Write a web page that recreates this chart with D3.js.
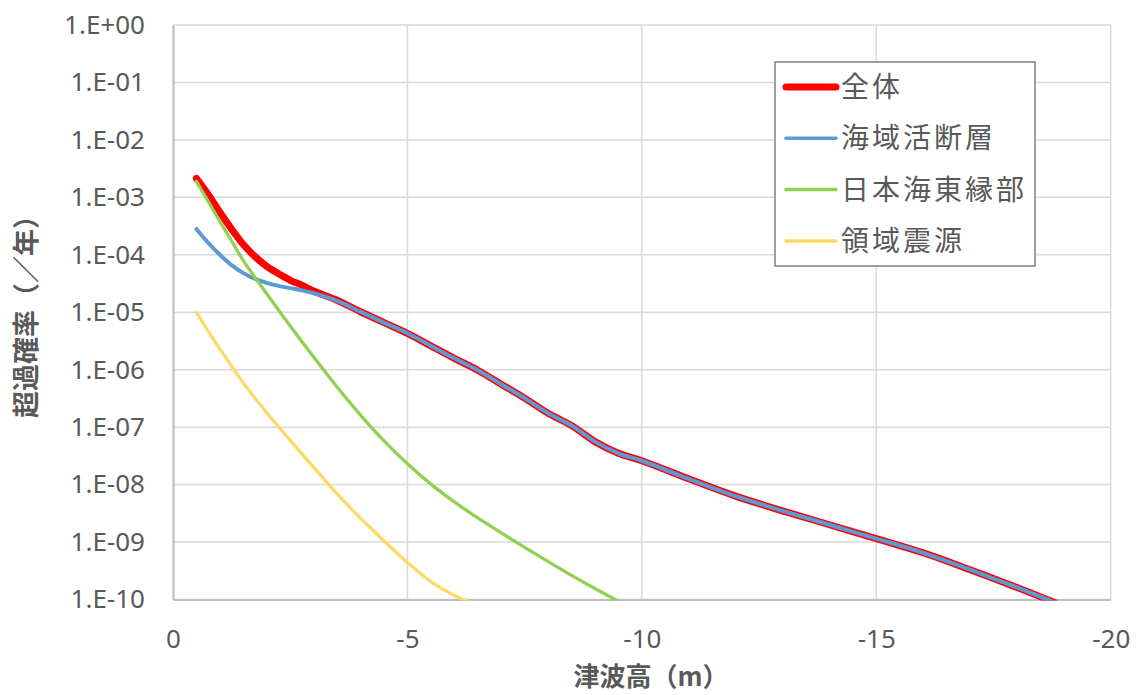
<!DOCTYPE html>
<html><head><meta charset="utf-8">
<script src="https://cdn.jsdelivr.net/npm/d3@7"></script>
<style>
html,body{margin:0;padding:0;background:#fff;}
text{font-family:"Noto Sans","Noto Sans CJK JP",sans-serif;}
</style></head>
<body><svg id="c" width="1140" height="695"></svg>
<script>
// tsunami height (m, plotted as negative values) and exceedance probability (/yr)
const xTotal = [-0.5,-0.75,-1,-1.25,-1.5,-1.75,-2,-2.25,-2.5,-2.75,-3,-3.5,-4,-4.5,-5,-5.5,-6,-6.5,-7,-7.5,-8,-8.5,-9,-9.5,-10,-11,-12,-13,-14,-15,-16,-17,-18,-18.8];
const yTotal = [2.14e-3,1.12e-3,5.5e-4,2.8e-4,1.51e-4,9.3e-5,6.3e-5,4.7e-5,3.6e-5,2.95e-5,2.34e-5,1.62e-5,1.02e-5,6.6e-6,4.3e-6,2.6e-6,1.58e-6,9.8e-7,5.6e-7,3.2e-7,1.74e-7,1.07e-7,5.6e-8,3.5e-8,2.6e-8,1.26e-8,6.3e-9,3.5e-9,2.0e-9,1.15e-9,6.5e-10,3.3e-10,1.62e-10,8.9e-11];
const xFault = [-0.5,-0.75,-1,-1.25,-1.5,-1.75,-2,-2.25,-2.5,-2.75,-3,-3.5,-4,-4.5,-5,-5.5,-6,-6.5,-7,-7.5,-8,-8.5,-9,-9.5,-10,-11,-12,-13,-14,-15,-16,-17,-18,-18.8];
const yFault = [2.82e-4,1.62e-4,1.0e-4,6.6e-5,4.8e-5,3.8e-5,3.24e-5,2.88e-5,2.63e-5,2.4e-5,2.14e-5,1.58e-5,1.02e-5,6.6e-6,4.3e-6,2.6e-6,1.58e-6,9.8e-7,5.6e-7,3.2e-7,1.74e-7,1.07e-7,5.6e-8,3.5e-8,2.6e-8,1.26e-8,6.3e-9,3.5e-9,2.0e-9,1.15e-9,6.5e-10,3.3e-10,1.62e-10,8.9e-11];
const xJapanSea = [-0.5,-0.75,-1,-1.25,-1.5,-2,-2.5,-3,-3.5,-4,-4.5,-5,-5.5,-6,-6.5,-7,-7.5,-8,-8.5,-9,-9.5];
const yJapanSea = [1.9e-3,8.5e-4,3.8e-4,1.74e-4,7.9e-5,2.1e-5,5.75e-6,1.66e-6,5.0e-7,1.62e-7,5.75e-8,2.3e-8,1.02e-8,5.0e-9,2.63e-9,1.45e-9,8.1e-10,4.6e-10,2.63e-10,1.55e-10,9.3e-11];
const xRegional = [-0.5,-0.75,-1,-1.5,-2,-2.5,-3,-3.5,-4,-4.5,-5,-5.5,-6,-6.35];
const yRegional = [1.0e-5,4.7e-6,2.3e-6,5.9e-7,1.78e-7,5.9e-8,2.0e-8,6.9e-9,2.6e-9,1.05e-9,4.4e-10,2.04e-10,1.17e-10,8.9e-11];

const seriesNames = ["全体","海域活断層","日本海東縁部","領域震源"];
const seriesColors = ["#FF0000","#5B9BD5","#92D050","#FFD966"];
const xTicks = [0,-5,-10,-15,-20];
const yTicks = [1,1e-1,1e-2,1e-3,1e-4,1e-5,1e-6,1e-7,1e-8,1e-9,1e-10];
const yTickLabels = ["1.E+00","1.E-01","1.E-02","1.E-03","1.E-04","1.E-05","1.E-06","1.E-07","1.E-08","1.E-09","1.E-10"];

const svg = d3.select("#c");
const L = 173, R = 1110.7, T = 25, B = 599.5;
const x = d3.scaleLinear().domain([0,-20]).range([L,R]);
const y = d3.scaleLog().domain([1e-10,1]).range([B,T]);

// gridlines
svg.append("g").selectAll("line").data(yTicks).join("line")
  .attr("x1",L).attr("x2",R).attr("y1",d=>y(d)).attr("y2",d=>y(d))
  .attr("stroke","#d9d9d9").attr("stroke-width",1.5);
svg.append("g").selectAll("line").data(xTicks.slice(1)).join("line")
  .attr("x1",d=>x(d)).attr("x2",d=>x(d)).attr("y1",T).attr("y2",B)
  .attr("stroke","#d9d9d9").attr("stroke-width",1.5);

// axes
const yAxis = d3.axisLeft(y).tickValues(yTicks).tickFormat((d,i)=>yTickLabels[i]).tickSize(0).tickPadding(28);
const gy = svg.append("g").attr("transform",`translate(${L},0)`).call(yAxis);
gy.select(".domain").attr("stroke","#bfbfbf").attr("stroke-width",2.2);
gy.selectAll("text").attr("font-size",26).attr("fill","#595959");
const xAxis = d3.axisBottom(x).tickValues(xTicks).tickFormat(d=>d3.format("d")(d).replace("−","-")).tickSize(0).tickPadding(30);
const gx = svg.append("g").attr("transform",`translate(0,${B})`).call(xAxis);
gx.select(".domain").attr("stroke","#bfbfbf").attr("stroke-width",2.2);
gx.selectAll("text").attr("font-size",26).attr("fill","#595959");

// clip
svg.append("clipPath").attr("id","clip").append("rect").attr("x",L).attr("y",T-10).attr("width",R-L+10).attr("height",B-T+11);

const line = d3.line().x(d=>x(d[0])).y(d=>y(d[1])).curve(d3.curveCatmullRom.alpha(0.5));
const data = [
  d3.zip(xTotal,yTotal), d3.zip(xFault,yFault), d3.zip(xJapanSea,yJapanSea), d3.zip(xRegional,yRegional)
];
const widths = [7,4,3.3,3.3];
const gl = svg.append("g").attr("clip-path","url(#clip)");
data.forEach((d,i)=>{
  gl.append("path").datum(d).attr("d",line).attr("fill","none")
    .attr("stroke",seriesColors[i]).attr("stroke-width",widths[i])
    .attr("stroke-linecap","round").attr("stroke-linejoin","round");
});

// axis titles
svg.append("text").attr("x",651).attr("y",686).attr("text-anchor","middle")
  .attr("font-size",26).attr("font-weight","bold").attr("fill","#595959")
  .style("font-family",'"Noto Sans CJK JP",sans-serif').text("津波高（m）");
svg.append("text").attr("transform","translate(36,310) rotate(-90)").attr("text-anchor","middle")
  .attr("font-size",27).attr("font-weight","bold").attr("fill","#595959")
  .style("font-family",'"Noto Sans CJK JP",sans-serif').text("超過確率（／年）");

// legend
const lg = svg.append("g");
lg.append("rect").attr("x",775).attr("y",62).attr("width",260).attr("height",204)
  .attr("fill","#fff").attr("stroke","#808080").attr("stroke-width",1.5);
seriesNames.forEach((n,i)=>{
  const cy = 87 + i*51.3;
  lg.append("line").attr("x1",786).attr("x2",836).attr("y1",cy).attr("y2",cy)
    .attr("stroke",seriesColors[i]).attr("stroke-width",i===0?7:3.5).attr("stroke-linecap","round");
  lg.append("text").attr("x",841).attr("y",cy).attr("dy","0.36em")
    .attr("font-size",28).attr("letter-spacing",3).attr("fill","#595959")
    .style("font-family",'"Noto Sans CJK JP",sans-serif').text(n);
});
</script></body></html>
